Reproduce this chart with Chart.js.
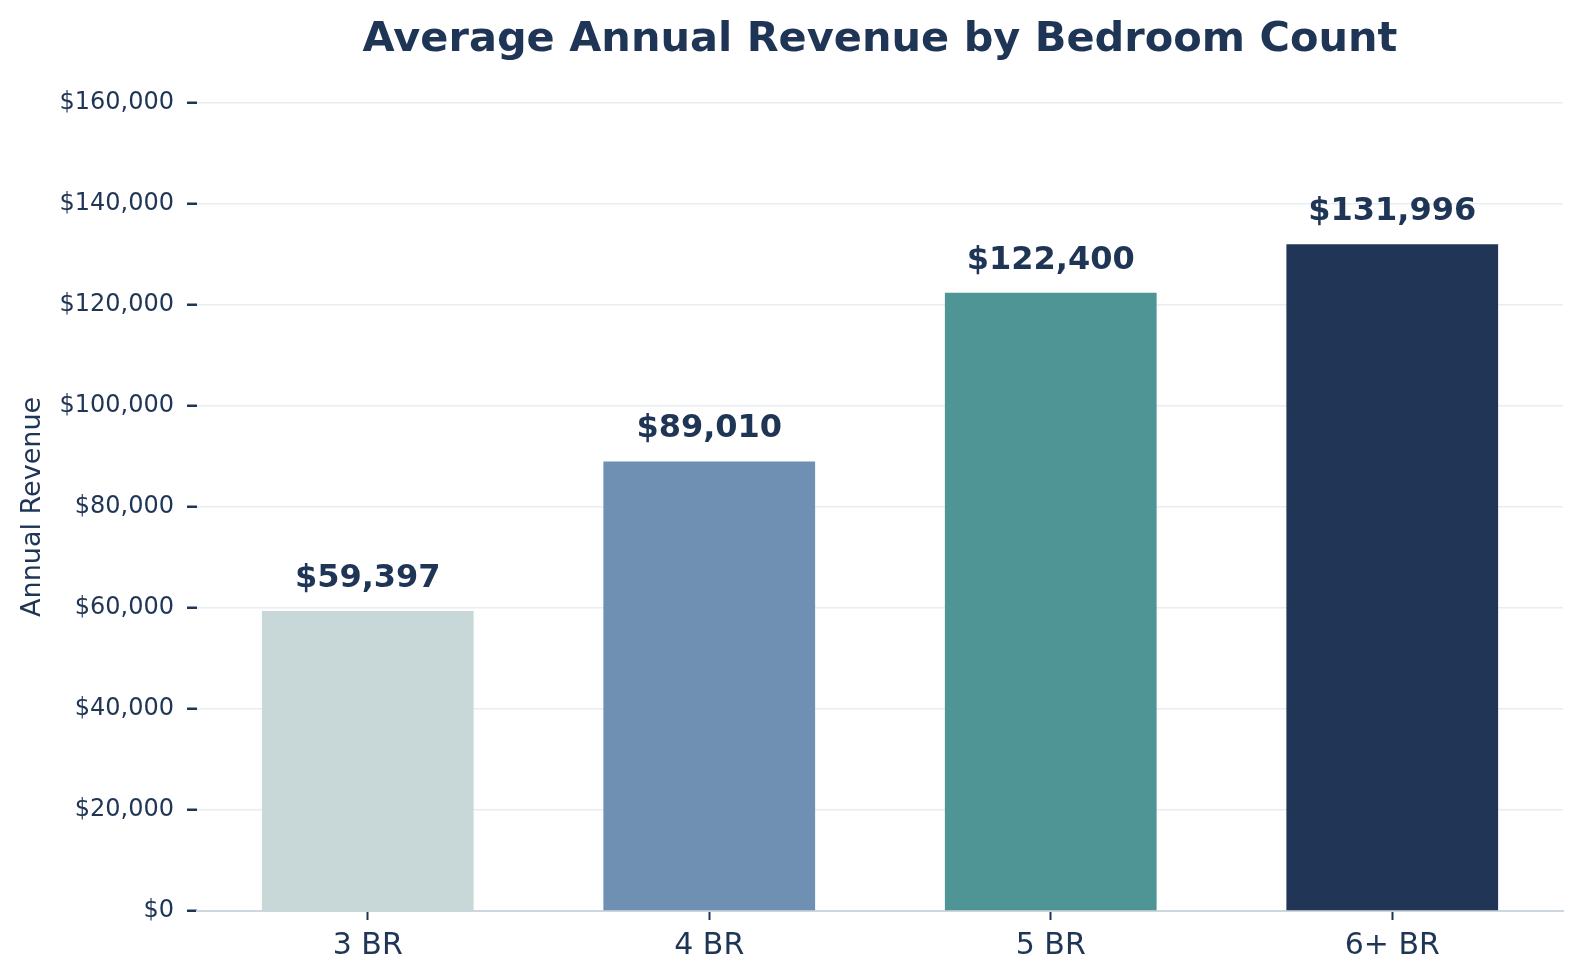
<!DOCTYPE html>
<html>
<head>
<meta charset="utf-8">
<script src="https://cdn.jsdelivr.net/npm/chart.js@4/dist/chart.umd.min.js"></script>
<style>
  html, body { margin: 0; padding: 0; background: #ffffff; }
  #wrap { width: 1581px; height: 980px; position: relative; }
</style>
</head>
<body>
<div id="wrap"><canvas id="c"></canvas></div>
<script>
const categories = ["3 BR", "4 BR", "5 BR", "6+ BR"];
const revenue = [59397, 89010, 122400, 131996];
const barColors = ["#c8d8d8", "#6f90b2", "#4f9595", "#213556"];
const yTickStep = 20000;
const yMax = 160000;
const titleText = "Average Annual Revenue by Bedroom Count";
const yAxisTitle = "Annual Revenue";

const TEXT = "#1f3556";
const FONT = "'DejaVu Sans', sans-serif";

const fmt = v => "$" + Math.round(v).toLocaleString("en-US");

const valueLabels = {
  id: "valueLabels",
  afterDatasetsDraw(chart) {
    const ctx = chart.ctx;
    const meta = chart.getDatasetMeta(0);
    ctx.save();
    ctx.fillStyle = TEXT;
    ctx.font = "bold 32px " + FONT;
    ctx.textAlign = "center";
    ctx.textBaseline = "alphabetic";
    meta.data.forEach((bar, i) => {
      ctx.fillText(fmt(chart.data.datasets[0].data[i]), bar.x, bar.y - 24);
    });
    ctx.restore();
  }
};

new Chart(document.getElementById("c"), {
  type: "bar",
  data: {
    labels: categories,
    datasets: [{
      data: revenue,
      backgroundColor: barColors,
      borderWidth: 0,
      categoryPercentage: 1.0,
      barPercentage: 0.62
    }]
  },
  options: {
    responsive: true,
    maintainAspectRatio: false,
    devicePixelRatio: 1,
    animation: false,
    layout: { padding: { left: 0, right: 18, top: 0, bottom: 0 } },
    plugins: {
      legend: { display: false },
      tooltip: { enabled: false },
      title: {
        display: true,
        text: titleText,
        fullSize: false,
        color: TEXT,
        font: { family: FONT, size: 41.5, weight: "bold" },
        padding: { top: 15, bottom: 38 }
      }
    },
    scales: {
      x: {
        offset: true,
        grid: {
          display: true,
          offset: false,
          drawOnChartArea: false,
          drawTicks: true,
          tickLength: 9,
          tickColor: TEXT,
          tickWidth: 2
        },
        border: { display: true, color: "#cdd6de", width: 2 },
        ticks: {
          color: TEXT,
          font: { family: FONT, size: 30 },
          padding: 8,
          maxRotation: 0
        },
        afterFit(scale) { scale.height = 69; }
      },
      y: {
        min: 0,
        max: yMax,
        grid: {
          color: "#e8eef0",
          lineWidth: 1.5,
          drawTicks: true,
          tickLength: 10,
          tickColor: TEXT,
          tickWidth: 2.5
        },
        border: { display: false },
        ticks: {
          stepSize: yTickStep,
          color: TEXT,
          font: { family: FONT, size: 24 },
          padding: 13,
          callback: v => fmt(v)
        },
        title: {
          display: true,
          text: yAxisTitle,
          color: TEXT,
          font: { family: FONT, size: 27 },
          padding: { top: 17, bottom: 0 }
        },
        afterFit(scale) { scale.width = 197; }
      }
    }
  },
  plugins: [valueLabels]
});
</script>
</body>
</html>
